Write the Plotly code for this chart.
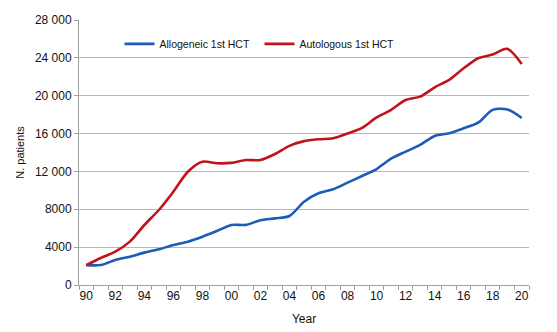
import plotly.graph_objects as go

years = list(range(1990, 2021))
allogeneic = [2100, 2110, 2640, 2990, 3420, 3770, 4230, 4580, 5100, 5700, 6350,
              6350, 6850, 7040, 7290, 8800, 9690, 10110, 10810, 11520, 12250,
              13350, 14090, 14800, 15750, 16030, 16560, 17160, 18500, 18550, 17650]
autologous = [2100, 2850, 3520, 4580, 6340, 7925, 9860, 11970, 13030, 12860, 12900,
              13200, 13200, 13840, 14700, 15200, 15400, 15500, 16000, 16600, 17700,
              18500, 19550, 19900, 20890, 21670, 22900, 23960, 24350, 24950, 23350]
y_tickvals = [0, 4000, 8000, 12000, 16000, 20000, 24000, 28000]
y_ticktext = ["0", "4000", "8000", "12 000", "16 000", "20 000", "24 000", "28 000"]
x_tickvals = list(range(1990, 2021, 2))
x_ticktext = ["90", "92", "94", "96", "98", "00", "02", "04", "06", "08",
              "10", "12", "14", "16", "18", "20"]

font = "Liberation Sans, Arial, sans-serif"

fig = go.Figure()
fig.add_trace(go.Scatter(x=years, y=allogeneic, mode="lines", name="Allogeneic 1st HCT",
                         line=dict(color="#1a5cb8", width=2.6, shape="spline", smoothing=0.8)))
fig.add_trace(go.Scatter(x=years, y=autologous, mode="lines", name="Autologous 1st HCT",
                         line=dict(color="#c0141c", width=2.6, shape="spline", smoothing=0.8)))

fig.update_layout(
    width=557, height=332,
    margin=dict(l=79, r=28, t=20, b=47),
    paper_bgcolor="white", plot_bgcolor="white",
    font=dict(family=font, size=12, color="#111111"),
    showlegend=True,
    legend=dict(orientation="h", x=0.09, y=0.91, xanchor="left", yanchor="middle",
                font=dict(size=10.5, color="#111111"), bgcolor="rgba(0,0,0,0)",
                itemwidth=30, tracegroupgap=0, entrywidth=95),
)
fig.update_xaxes(
    range=[1989.5, 2020.5], tickmode="array", tickvals=x_tickvals, ticktext=x_ticktext,
    ticks="", showgrid=False, zeroline=False, automargin=False,
    showline=True, linecolor="#a0a0a0", linewidth=1,
    tickfont=dict(size=12),
    minor=dict(tick0=1989.5, dtick=1, ticks="outside", ticklen=4, tickcolor="#a0a0a0", showgrid=False),
    title=dict(text="Year", font=dict(size=12), standoff=12),
)
fig.update_yaxes(
    range=[0, 28000], tickmode="array", tickvals=y_tickvals, ticktext=y_ticktext,
    ticks="outside", ticklen=4, tickcolor="#a0a0a0",
    showgrid=True, gridcolor="#b8b8b8", gridwidth=1, zeroline=False, automargin=False,
    showline=True, linecolor="#a0a0a0", linewidth=1,
    tickfont=dict(size=12),
    title=dict(text="N. patients", font=dict(size=11), standoff=8),
)

fig.write_html("out.html")
